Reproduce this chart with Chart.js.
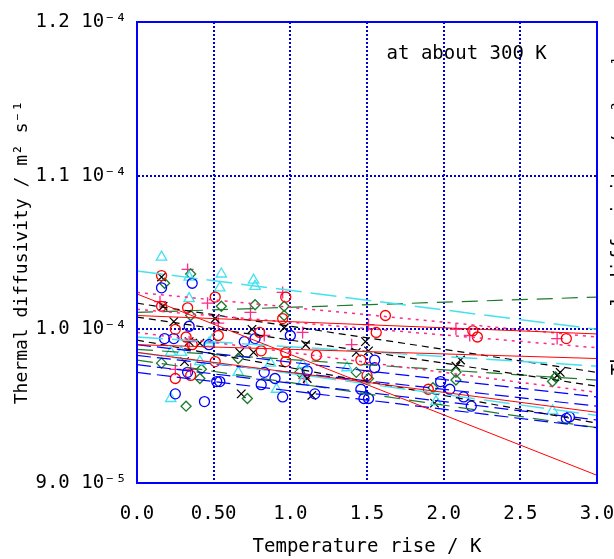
<!DOCTYPE html>
<html>
<head>
<meta charset="utf-8">
<script src="https://cdn.jsdelivr.net/npm/chart.js@4.4.1/dist/chart.umd.min.js"></script>
<style>
  html, body { margin: 0; padding: 0; background: #fff; }
  canvas { display: block; }
</style>
</head>
<body>
<canvas id="myChart" width="614" height="559"></canvas>
<script>
// values in units of 1e-5 m^2/s
const xTickLabels = ['0.0', '0.50', '1.0', '1.5', '2.0', '2.5', '3.0'];
const yTickLabels = ['9.0 10\u207B\u2075', '1.0 10\u207B\u2074', '1.1 10\u207B\u2074', '1.2 10\u207B\u2074'];

// measured points
const redCircleX = [0.16, 0.16, 0.33, 0.25, 0.32, 0.36, 0.25, 0.35, 0.51, 0.53, 0.80, 0.51, 0.81, 0.97, 0.95, 0.97, 0.97, 1.17, 1.46, 1.62, 1.56, 1.50, 1.90, 2.19, 2.22, 2.80];
const redCircleY = [10.35, 10.15, 10.14, 10.00, 9.95, 9.90, 9.68, 9.70, 10.21, 9.96, 9.98, 9.79, 9.86, 10.21, 10.07, 9.85, 9.79, 9.83, 9.80, 10.09, 9.98, 9.70, 9.61, 9.99, 9.95, 9.94];

const blueCircleX = [0.16, 0.36, 0.34, 0.18, 0.24, 0.47, 0.33, 0.25, 0.44, 0.70, 0.77, 0.52, 0.54, 0.83, 0.81, 0.90, 0.95, 1.11, 1.16, 1.46, 1.48, 1.55, 1.55, 1.51, 1.98, 2.04, 2.13, 2.18, 2.80, 2.82, 1.00];
const blueCircleY = [10.27, 10.30, 10.02, 9.94, 9.94, 9.90, 9.72, 9.58, 9.53, 9.92, 9.94, 9.66, 9.66, 9.72, 9.64, 9.68, 9.56, 9.73, 9.58, 9.61, 9.55, 9.80, 9.75, 9.55, 9.66, 9.61, 9.56, 9.50, 9.42, 9.43, 9.96];

const cyanTriX = [0.16, 0.34, 0.34, 0.47, 0.22, 0.29, 0.41, 0.22, 0.55, 0.76, 0.54, 0.77, 0.66, 0.87, 0.91, 1.08, 1.08, 1.37, 1.95, 2.71, 0.49];
const cyanTriY = [10.47, 10.34, 10.20, 9.91, 9.85, 9.85, 9.79, 9.55, 10.36, 10.32, 10.27, 10.28, 9.72, 9.78, 9.61, 9.77, 9.66, 9.75, 9.53, 9.47, 9.93];

const greenDiaX = [0.35, 0.18, 0.35, 0.16, 0.42, 0.41, 0.32, 0.55, 0.77, 0.66, 0.72, 0.96, 0.96, 1.06, 1.43, 1.51, 1.93, 2.08, 2.08, 2.71, 2.73];
const greenDiaY = [10.36, 10.30, 10.09, 9.78, 9.74, 9.68, 9.50, 10.15, 10.16, 9.81, 9.55, 10.15, 10.09, 9.72, 9.72, 9.68, 9.62, 9.72, 9.67, 9.66, 9.69];

const blackCrossX = [0.16, 0.17, 0.24, 0.34, 0.41, 0.31, 0.51, 0.75, 0.67, 0.76, 0.68, 0.96, 1.10, 1.11, 1.14, 1.43, 1.49, 1.51, 1.94, 2.11, 2.08, 2.74, 2.76];
const blackCrossY = [10.34, 10.15, 10.05, 9.92, 9.91, 9.79, 10.07, 10.00, 9.85, 9.85, 9.58, 10.01, 9.90, 9.68, 9.57, 9.85, 9.92, 9.86, 9.52, 9.80, 9.76, 9.70, 9.72];

const pinkPlusX = [0.33, 0.15, 0.46, 0.34, 0.25, 0.35, 0.74, 0.53, 0.95, 1.08, 1.09, 1.40, 1.51, 2.08, 2.17, 2.74, 0.83];
const pinkPlusY = [10.39, 10.18, 10.17, 9.92, 9.74, 9.74, 10.11, 10.04, 10.24, 9.98, 9.68, 9.90, 10.03, 10.00, 9.96, 9.94, 9.96];

// fitted lines: value at x = 0 and at x = 3
const fitX = [0, 3];
const redFitStart = [10.09, 10.23, 9.90, 9.85];
const redFitEnd = [9.97, 9.05, 9.81, 9.46];
const pinkFitStart = [10.24, 10.13, 9.98];
const pinkFitEnd = [9.95, 9.88, 9.59];
const cyanFitStart = [10.38, 9.85, 9.95];
const cyanFitEnd = [10.00, 9.44, 9.76];
const blackFitStart = [10.17, 10.08, 9.93];
const blackFitEnd = [9.72, 9.63, 9.39];
const blueFitStart = [9.90, 9.83, 9.77, 9.72];
const blueFitEnd = [9.56, 9.50, 9.41, 9.36];
const greenFitStart = [10.11, 9.87, 9.80];
const greenFitEnd = [10.21, 9.67, 9.36];

const RED = '#ff0000', BLUE = '#0000ff', CYAN = '#45e2ee', GREEN = '#1c7a2c', BLACK = '#000000', PINK = '#ff2a8a';
const GRID = '#0000cc';
const FONT = 'DejaVu Sans Mono';

function toPoints(xs, ys) {
    return xs.map((x, i) => ({ x: x, y: ys[i] }));
}

const datasets = [];

function addFits(starts, ends, color, dash, width) {
    starts.forEach((s, i) => {
        datasets.push({
            data: toPoints(fitX, [s, ends[i]]),
            showLine: true,
            borderColor: color,
            borderWidth: width,
            borderDash: dash,
            pointRadius: 0,
            fill: false
        });
    });
}

addFits(redFitStart, redFitEnd, RED, [], 1);
addFits(pinkFitStart, pinkFitEnd, PINK, [3, 5], 1.5);
addFits(cyanFitStart, cyanFitEnd, CYAN, [26, 9], 1.5);
addFits(blackFitStart, blackFitEnd, BLACK, [7, 5], 1.2);
addFits(blueFitStart, blueFitEnd, BLUE, [14, 6], 1.2);
addFits(greenFitStart, greenFitEnd, GREEN, [16, 9], 1.2);

function addMarks(xs, ys, color, style, r) {
    datasets.push({
        data: toPoints(xs, ys),
        showLine: false,
        pointStyle: style,
        pointRadius: r,
        pointBorderColor: color,
        pointBackgroundColor: 'rgba(0,0,0,0)',
        pointBorderWidth: 1.3,
        borderColor: color
    });
}

addMarks(redCircleX, redCircleY, RED, 'circle', 5);
addMarks(blueCircleX, blueCircleY, BLUE, 'circle', 5);
addMarks(cyanTriX, cyanTriY, CYAN, 'triangle', 6);
addMarks(greenDiaX, greenDiaY, GREEN, 'rectRot', 5);
addMarks(blackCrossX, blackCrossY, BLACK, 'crossRot', 6);
addMarks(pinkPlusX, pinkPlusY, PINK, 'cross', 6);

// frame and extra texts
const framePlugin = {
    id: 'frame',
    afterDraw(chart) {
        const ctx = chart.ctx;
        const a = chart.chartArea;
        ctx.save();
        ctx.strokeStyle = BLUE;
        ctx.lineWidth = 2;
        ctx.strokeRect(a.left, a.top, a.right - a.left, a.bottom - a.top);

        const xs = chart.scales.x, ys = chart.scales.y;
        ctx.fillStyle = '#000';
        ctx.font = '19px "' + FONT + '"';
        ctx.textAlign = 'center';
        ctx.textBaseline = 'middle';
        ctx.fillText('at about 300 K', xs.getPixelForValue(2.15), ys.getPixelForValue(11.79));

        // y title of the neighbouring chart, cut by the window edge
        ctx.translate(620, 215);
        ctx.rotate(-Math.PI / 2);
        ctx.fillText('Thermal diffusivity / m\u00B2 s\u207B\u00B9', 0, 0);
        ctx.restore();
    }
};

const ctx = document.getElementById('myChart').getContext('2d');
const chart = new Chart(ctx, {
    type: 'scatter',
    data: { datasets: datasets },
    options: {
        responsive: false,
        animation: false,
        layout: { padding: { top: 22, right: 0, left: 0, bottom: 0 } },
        plugins: {
            legend: { display: false },
            tooltip: { enabled: false }
        },
        scales: {
            x: {
                type: 'linear',
                min: 0,
                max: 3,
                afterFit: s => { s.height = 76; s.paddingRight = 17; },
                ticks: {
                    stepSize: 0.5,
                    autoSkip: false,
                    maxRotation: 0,
                    padding: 20,
                    color: '#000',
                    font: { family: FONT, size: 19 },
                    callback: (v, i) => xTickLabels[i]
                },
                grid: {
                    color: GRID,
                    lineWidth: 2,
                    drawTicks: false
                },
                border: { display: true, color: BLUE, width: 2 },
                title: {
                    display: true,
                    text: 'Temperature rise / K',
                    color: '#000',
                    font: { family: FONT, size: 19 },
                    padding: { top: 0, bottom: 1 }
                }
            },
            y: {
                type: 'linear',
                min: 9,
                max: 12,
                afterFit: s => { s.width = 137; },
                ticks: {
                    stepSize: 1,
                    padding: 10,
                    color: '#000',
                    font: { family: FONT, size: 19 },
                    callback: (v, i) => yTickLabels[i]
                },
                grid: {
                    color: GRID,
                    lineWidth: 2,
                    drawTicks: false
                },
                border: { display: true, color: BLUE, width: 2 },
                title: {
                    display: true,
                    text: 'Thermal diffusivity / m\u00B2 s\u207B\u00B9',
                    color: '#000',
                    font: { family: FONT, size: 18 },
                    padding: { top: 12, bottom: 0 }
                }
            }
        }
    },
    plugins: [framePlugin]
});

// dotted grid
chart.options.scales.x.grid.borderDash = [2, 2];
chart.options.scales.y.grid.borderDash = [2, 2];
chart.options.scales.x.border.dash = [2, 2];
chart.options.scales.y.border.dash = [2, 2];
chart.update();
</script>
</body>
</html>
